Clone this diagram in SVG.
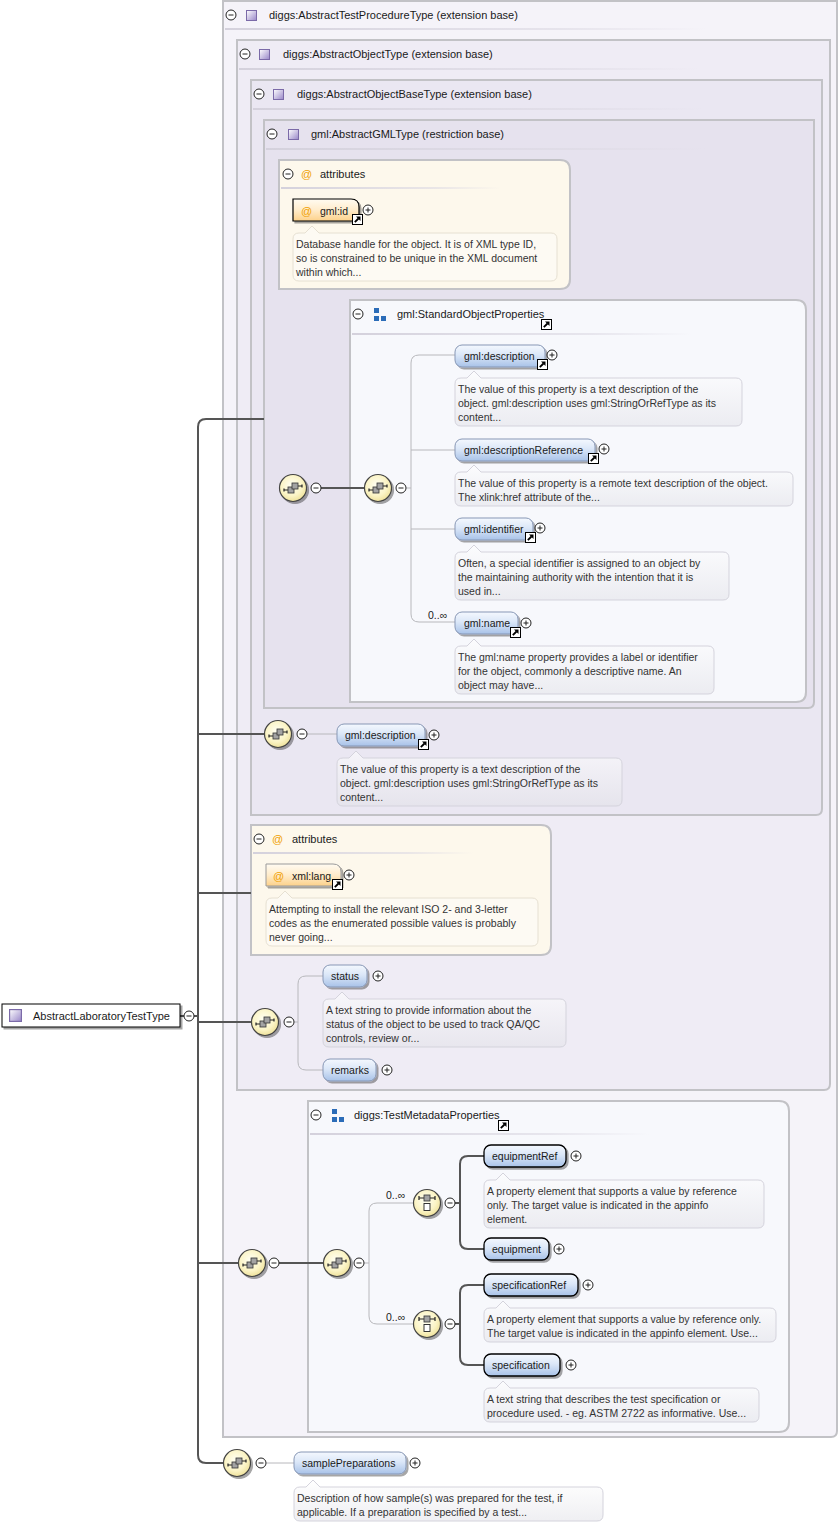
<svg xmlns="http://www.w3.org/2000/svg" width="840" height="1524" viewBox="0 0 840 1524">
<defs>
<style>
text{font-family:"Liberation Sans",Arial,sans-serif;fill:#1a1a1a}
.h{font-size:11px}
.e{font-size:10.5px}
.d{font-size:10.5px;fill:#333}
.box{stroke:#c2c2c6;stroke-width:2}
.cd{fill:none;stroke:#555;stroke-width:2}
.cl{fill:none;stroke:#b8b8bc;stroke-width:1}
.el{fill:url(#eg);filter:url(#sh)}
.opt{stroke:#8797b5;stroke-width:1}
.req{stroke:#000;stroke-width:1.3}
.desc{fill:url(#dg);stroke:#d4d3dc;stroke-width:1}
.adesc{fill:#fdfaf3;stroke:#e6e0d2;stroke-width:1}
.at{font-size:11px;fill:#f0a000}
.atb{fill:url(#ag);filter:url(#sh)}
.sep{fill:url(#sg)}
</style>
<linearGradient id="eg" x1="0" y1="0" x2="0" y2="1">
<stop offset="0" stop-color="#f4f8fe"/><stop offset="0.45" stop-color="#dbe7f8"/><stop offset="1" stop-color="#a8c2e8"/>
</linearGradient>
<linearGradient id="ag" x1="0" y1="0" x2="0" y2="1">
<stop offset="0" stop-color="#fffbf2"/><stop offset="0.5" stop-color="#ffeccb"/><stop offset="1" stop-color="#fdd189"/>
</linearGradient>
<linearGradient id="dg" x1="0" y1="0" x2="0" y2="1">
<stop offset="0" stop-color="#ffffff" stop-opacity="0.55"/><stop offset="1" stop-color="#e2e2e8" stop-opacity="0.55"/>
</linearGradient>
<linearGradient id="sg" x1="0" y1="0" x2="1" y2="0">
<stop offset="0" stop-color="#d4d1dc"/><stop offset="0.7" stop-color="#dcd9e3" stop-opacity="0.6"/><stop offset="1" stop-color="#dcd9e3" stop-opacity="0"/>
</linearGradient>
<linearGradient id="tg" x1="0" y1="0" x2="1" y2="1">
<stop offset="0" stop-color="#ffffff"/><stop offset="1" stop-color="#9886c8"/>
</linearGradient>
<radialGradient id="yg" cx="0.45" cy="0.4" r="0.6">
<stop offset="0" stop-color="#fffff4"/><stop offset="0.65" stop-color="#fbf4c6"/><stop offset="1" stop-color="#efe29c"/>
</radialGradient>
<filter id="sh" x="-20%" y="-20%" width="140%" height="160%">
<feDropShadow dx="2" dy="2" stdDeviation="0.7" flood-color="#000" flood-opacity="0.35"/>
</filter>
<symbol id="plus" viewBox="0 0 12 12"><circle cx="6" cy="6" r="5" fill="#fff" stroke="#222" stroke-width="1"/><path d="M3.5,6H8.5M6,3.5V8.5" stroke="#222" stroke-width="1"/></symbol>
<symbol id="minus" viewBox="0 0 12 12"><circle cx="6" cy="6" r="5" fill="#fff" stroke="#222" stroke-width="1"/><path d="M3.5,6H8.5" stroke="#222" stroke-width="1"/></symbol>
<symbol id="lnk" viewBox="0 0 11 11"><rect x="0.5" y="0.5" width="10" height="10" fill="#fff" stroke="#000"/><path d="M2.8,8.2L6.5,4.5" stroke="#000" stroke-width="1.8"/><path d="M4,2.5H8.5V7Z" fill="#000"/></symbol>
<symbol id="ti" viewBox="0 0 11 11"><rect x="0.5" y="0.5" width="10" height="10" fill="url(#tg)" stroke="#7b6aa8"/></symbol>
<symbol id="grp" viewBox="0 0 12 13"><rect x="0" y="0" width="5" height="5" fill="#2b6cb8"/><rect x="0" y="8" width="5" height="5" fill="#2b6cb8"/><rect x="7" y="8" width="5" height="5" fill="#2b6cb8"/></symbol>
<symbol id="seq" viewBox="0 0 32 32"><circle cx="16" cy="16" r="13.5" fill="url(#yg)" stroke="#444" stroke-width="1.2"/><path d="M7,18H11M21,14H25M7,16.5V19.5M25,12.5V15.5" stroke="#222" stroke-width="1.2" fill="none"/><rect x="11" y="15" width="6" height="6" fill="#a3a3a3" stroke="#333" stroke-width="0.8"/><rect x="15" y="11" width="6" height="6" fill="#a3a3a3" stroke="#333" stroke-width="0.8"/></symbol>
<symbol id="cho" viewBox="0 0 32 32"><circle cx="16" cy="16" r="13.5" fill="url(#yg)" stroke="#444" stroke-width="1.2"/><path d="M8,11H24M8,9V13M24,9V13" stroke="#222" stroke-width="1.2" fill="none"/><rect x="13" y="8" width="6" height="6" fill="#a3a3a3" stroke="#333" stroke-width="0.8"/><rect x="13" y="16.5" width="6" height="7" fill="#fff" stroke="#222" stroke-width="0.9"/></symbol>
</defs>

<g id="containers">
<g id="AbstractTestProcedureType">
<path class="box" fill="#f5f3f9" d="M223,1H837V1431Q837,1437 831,1437H223Z"/>
<use href="#minus" x="225" y="9" width="12" height="12"/>
<use href="#ti" x="246" y="10" width="11" height="11"/>
<text class="h" x="269" y="19">diggs:AbstractTestProcedureType (extension base)</text>
<rect class="sep" x="225" y="28" width="480" height="2"/>
</g>
<g id="AbstractObjectType">
<path class="box" fill="#efecf5" d="M237,40H830V1084Q830,1090 824,1090H237Z"/>
<use href="#minus" x="239" y="48" width="12" height="12"/>
<use href="#ti" x="259" y="49" width="11" height="11"/>
<text class="h" x="283" y="58">diggs:AbstractObjectType (extension base)</text>
<rect class="sep" x="239" y="68" width="460" height="2"/>
</g>
<g id="AbstractObjectBaseType">
<path class="box" fill="#eae7f2" d="M251,80H822V809Q822,815 816,815H251Z"/>
<use href="#minus" x="253" y="88" width="12" height="12"/>
<use href="#ti" x="273" y="89" width="11" height="11"/>
<text class="h" x="297" y="98">diggs:AbstractObjectBaseType (extension base)</text>
<rect class="sep" x="253" y="108" width="450" height="2"/>
</g>
<g id="AbstractGMLType">
<path class="box" fill="#e6e2ee" d="M264,120H814V702Q814,708 808,708H264Z"/>
<use href="#minus" x="266" y="128" width="12" height="12"/>
<use href="#ti" x="288" y="129" width="11" height="11"/>
<text class="h" x="311" y="138">gml:AbstractGMLType (restriction base)</text>
<rect class="sep" x="266" y="148" width="440" height="2"/>
</g>
<g id="attributes1">
<path class="box" fill="#fdf8ec" d="M279,160H560Q570,160 570,170V279Q570,289 560,289H279Z"/>
<use href="#minus" x="282" y="168" width="12" height="12"/>
<text class="at" x="301" y="178">@</text>
<text class="h" x="320" y="178">attributes</text>
<rect class="sep" x="281" y="187" width="220" height="2"/>
</g>
<g id="StandardObjectProperties">
<path class="box" fill="#f7f8fc" d="M350,300H796Q806,300 806,310V692Q806,702 796,702H350Z"/>
<use href="#minus" x="352" y="308" width="12" height="12"/>
<use href="#grp" x="374" y="308" width="12" height="13"/>
<text class="h" x="397" y="318">gml:StandardObjectProperties</text>
<use href="#lnk" x="541" y="319" width="11" height="11"/>
<rect class="sep" x="352" y="333" width="340" height="2"/>
</g>
<g id="attributes2">
<path class="box" fill="#fdf8ec" d="M251,825H541Q551,825 551,835V945Q551,955 541,955H251Z"/>
<use href="#minus" x="253" y="833" width="12" height="12"/>
<text class="at" x="272" y="843">@</text>
<text class="h" x="292" y="843">attributes</text>
<rect class="sep" x="253" y="852" width="220" height="2"/>
</g>
<g id="TestMetadataProperties">
<path class="box" fill="#f7f8fc" d="M308,1101H779Q789,1101 789,1111V1422Q789,1432 779,1432H308Z"/>
<use href="#minus" x="310" y="1109" width="12" height="12"/>
<use href="#grp" x="332" y="1109" width="12" height="13"/>
<text class="h" x="354" y="1119">diggs:TestMetadataProperties</text>
<use href="#lnk" x="498" y="1120" width="11" height="11"/>
<rect class="sep" x="310" y="1133" width="340" height="2"/>
</g>
</g>

<g id="connectors">
<path class="cd" d="M264,419H206Q198,419 198,427V1455Q198,1463 206,1463H224"/>
<path class="cd" d="M180,1016H184M194,1016H198"/>
<path class="cd" d="M198,734H265M198,893H251M198,1022H252M198,1263H239"/>
<path class="cd" d="M321,488H365" stroke="#666"/>
<path class="cd" d="M279,1263H324"/>
<path class="cl" d="M406,488H411M455,355H419Q411,355 411,363V614Q411,622 419,622H455M411,450H455M411,529H455"/>
<path class="cl" d="M307,734H337"/>
<path class="cl" d="M294,1022H298M323,976H306Q298,976 298,984V1062Q298,1070 306,1070H323"/>
<path class="cl" d="M364,1263H369M414,1203H377Q369,1203 369,1211V1316Q369,1324 377,1324H414"/>
<path class="cl" d="M266,1463H294"/>
<path class="cd" d="M455,1203H460M484,1156H468Q460,1156 460,1164V1241Q460,1249 468,1249H484"/>
<path class="cd" d="M455,1324H460M484,1285H468Q460,1285 460,1293V1357Q460,1365 468,1365H484"/>
<text class="e" x="428" y="619">0..∞</text>
<text class="e" x="386" y="1199">0..∞</text>
<text class="e" x="386" y="1321">0..∞</text>
</g>

<g id="AbstractLaboratoryTestType">
<rect x="2" y="1004" width="178" height="23" fill="#fff" stroke="#000" stroke-width="1" filter="url(#sh)"/>
<use href="#ti" x="9" y="1009" width="13" height="13"/>
<text x="33" y="1020" style="font-size:11px">AbstractLaboratoryTestType</text>
<use href="#minus" x="183" y="1010" width="12" height="12"/>
</g>

<g id="seq1"><use href="#seq" x="277" y="472" width="32" height="32" filter="url(#sh)"/><use href="#minus" x="310" y="482" width="12" height="12"/></g>
<g id="seq2"><use href="#seq" x="362" y="472" width="32" height="32" filter="url(#sh)"/><use href="#minus" x="395" y="482" width="12" height="12"/></g>
<g id="seq3"><use href="#seq" x="262" y="718" width="32" height="32" filter="url(#sh)"/><use href="#minus" x="296" y="728" width="12" height="12"/></g>
<g id="seq4"><use href="#seq" x="249" y="1006" width="32" height="32" filter="url(#sh)"/><use href="#minus" x="283" y="1016" width="12" height="12"/></g>
<g id="seq5"><use href="#seq" x="236" y="1247" width="32" height="32" filter="url(#sh)"/><use href="#minus" x="268" y="1257" width="12" height="12"/></g>
<g id="seq6"><use href="#seq" x="321" y="1247" width="32" height="32" filter="url(#sh)"/><use href="#minus" x="353" y="1257" width="12" height="12"/></g>
<g id="choice1"><use href="#cho" x="411" y="1187" width="32" height="32" filter="url(#sh)"/><use href="#minus" x="444" y="1197" width="12" height="12"/></g>
<g id="choice2"><use href="#cho" x="411" y="1308" width="32" height="32" filter="url(#sh)"/><use href="#minus" x="444" y="1318" width="12" height="12"/></g>
<g id="seq7"><use href="#seq" x="221" y="1447" width="32" height="32" filter="url(#sh)"/><use href="#minus" x="255" y="1457" width="12" height="12"/></g>

<g id="gml-id">
<path class="atb" d="M293,199H351Q359,199 359,207V221H293Z" stroke="#000" stroke-width="1.2"/>
<text class="at" x="301" y="215">@</text>
<text class="e" x="320" y="215">gml:id</text>
<use href="#lnk" x="352" y="214" width="11" height="11"/>
<use href="#plus" x="362" y="204" width="12" height="12"/>
<path class="adesc" d="M299,233H305L312,226L319,233H551Q557,233 557,239V275Q557,281 551,281H299Q293,281 293,275V239Q293,233 299,233Z"/>
<text class="d" x="296" y="247.5">Database handle for the object. It is of XML type ID,</text>
<text class="d" x="296" y="261.5">so is constrained to be unique in the XML document</text>
<text class="d" x="296" y="275.5">within which...</text>
</g>

<g id="gml-description-1">
<rect class="el opt" x="455" y="345" width="90" height="22" rx="7"/>
<text class="e" x="464" y="360">gml:description</text>
<use href="#lnk" x="537" y="359" width="11" height="11"/>
<use href="#plus" x="546" y="349" width="12" height="12"/>
<path class="desc" d="M461,378H467L474,371L481,378H736Q742,378 742,384V420Q742,426 736,426H461Q455,426 455,420V384Q455,378 461,378Z"/>
<text class="d" x="458" y="392.5">The value of this property is a text description of the</text>
<text class="d" x="458" y="406.5">object. gml:description uses gml:StringOrRefType as its</text>
<text class="d" x="458" y="420.5">content...</text>
</g>

<g id="gml-descriptionReference">
<rect class="el opt" x="455" y="439" width="140" height="22" rx="7"/>
<text class="e" x="464" y="454">gml:descriptionReference</text>
<use href="#lnk" x="588" y="453" width="11" height="11"/>
<use href="#plus" x="598" y="443" width="12" height="12"/>
<path class="desc" d="M461,472H467L474,465L481,472H787Q793,472 793,478V500Q793,506 787,506H461Q455,506 455,500V478Q455,472 461,472Z"/>
<text class="d" x="458" y="486.5">The value of this property is a remote text description of the object.</text>
<text class="d" x="458" y="500.5">The xlink:href attribute of the...</text>
</g>

<g id="gml-identifier">
<rect class="el opt" x="455" y="518" width="78" height="22" rx="7"/>
<text class="e" x="464" y="533">gml:identifier</text>
<use href="#lnk" x="525" y="532" width="11" height="11"/>
<use href="#plus" x="534" y="522" width="12" height="12"/>
<path class="desc" d="M461,552H467L474,545L481,552H723Q729,552 729,558V594Q729,600 723,600H461Q455,600 455,594V558Q455,552 461,552Z"/>
<text class="d" x="458" y="566.5">Often, a special identifier is assigned to an object by</text>
<text class="d" x="458" y="580.5">the maintaining authority with the intention that it is</text>
<text class="d" x="458" y="594.5">used in...</text>
</g>

<g id="gml-name">
<rect class="el opt" x="455" y="612" width="63" height="22" rx="7"/>
<text class="e" x="464" y="627">gml:name</text>
<use href="#lnk" x="510" y="627" width="11" height="11"/>
<use href="#plus" x="520" y="617" width="12" height="12"/>
<path class="desc" d="M461,646H467L474,639L481,646H708Q714,646 714,652V688Q714,694 708,694H461Q455,694 455,688V652Q455,646 461,646Z"/>
<text class="d" x="458" y="660.5">The gml:name property provides a label or identifier</text>
<text class="d" x="458" y="674.5">for the object, commonly a descriptive name. An</text>
<text class="d" x="458" y="688.5">object may have...</text>
</g>

<g id="gml-description-2">
<rect class="el opt" x="337" y="724" width="88" height="22" rx="7"/>
<text class="e" x="345" y="739">gml:description</text>
<use href="#lnk" x="418" y="739" width="11" height="11"/>
<use href="#plus" x="428" y="729" width="12" height="12"/>
<path class="desc" d="M343,758H349L356,751L363,758H616Q622,758 622,764V800Q622,806 616,806H343Q337,806 337,800V764Q337,758 343,758Z"/>
<text class="d" x="340" y="772.5">The value of this property is a text description of the</text>
<text class="d" x="340" y="786.5">object. gml:description uses gml:StringOrRefType as its</text>
<text class="d" x="340" y="800.5">content...</text>
</g>

<g id="xml-lang">
<path class="atb" d="M266,864H333Q341,864 341,872V886H266Z" stroke="#9a9a9a" stroke-width="1"/>
<text class="at" x="273" y="880">@</text>
<text class="e" x="292" y="880">xml:lang</text>
<use href="#lnk" x="332" y="879" width="11" height="11"/>
<use href="#plus" x="343" y="869" width="12" height="12"/>
<path class="adesc" d="M272,898H278L285,891L292,898H532Q538,898 538,904V940Q538,946 532,946H272Q266,946 266,940V904Q266,898 272,898Z"/>
<text class="d" x="269" y="912.5">Attempting to install the relevant ISO 2- and 3-letter</text>
<text class="d" x="269" y="926.5">codes as the enumerated possible values is probably</text>
<text class="d" x="269" y="940.5">never going...</text>
</g>

<g id="status">
<rect class="el opt" x="323" y="965" width="44" height="22" rx="7"/>
<text class="e" x="331" y="980">status</text>
<use href="#plus" x="372" y="970" width="12" height="12"/>
<path class="desc" d="M329,999H335L342,992L349,999H560Q566,999 566,1005V1041Q566,1047 560,1047H329Q323,1047 323,1041V1005Q323,999 329,999Z"/>
<text class="d" x="326" y="1013.5">A text string to provide information about the</text>
<text class="d" x="326" y="1027.5">status of the object to be used to track QA/QC</text>
<text class="d" x="326" y="1041.5">controls, review or...</text>
</g>

<g id="remarks">
<rect class="el opt" x="323" y="1059" width="53" height="22" rx="7"/>
<text class="e" x="331" y="1074">remarks</text>
<use href="#plus" x="381" y="1064" width="12" height="12"/>
</g>

<g id="equipmentRef">
<rect class="el req" x="484" y="1145" width="82" height="22" rx="7"/>
<text class="e" x="492" y="1160">equipmentRef</text>
<use href="#plus" x="570" y="1150" width="12" height="12"/>
<path class="desc" d="M490,1180H496L503,1173L510,1180H758Q764,1180 764,1186V1222Q764,1228 758,1228H490Q484,1228 484,1222V1186Q484,1180 490,1180Z"/>
<text class="d" x="487" y="1194.5">A property element that supports a value by reference</text>
<text class="d" x="487" y="1208.5">only. The target value is indicated in the appinfo</text>
<text class="d" x="487" y="1222.5">element.</text>
</g>

<g id="equipment">
<rect class="el req" x="484" y="1238" width="65" height="22" rx="7"/>
<text class="e" x="492" y="1253">equipment</text>
<use href="#plus" x="553" y="1243" width="12" height="12"/>
</g>

<g id="specificationRef">
<rect class="el req" x="484" y="1274" width="94" height="22" rx="7"/>
<text class="e" x="492" y="1289">specificationRef</text>
<use href="#plus" x="582" y="1279" width="12" height="12"/>
<path class="desc" d="M490,1308H496L503,1301L510,1308H770Q776,1308 776,1314V1336Q776,1342 770,1342H490Q484,1342 484,1336V1314Q484,1308 490,1308Z"/>
<text class="d" x="487" y="1322.5">A property element that supports a value by reference only.</text>
<text class="d" x="487" y="1336.5">The target value is indicated in the appinfo element. Use...</text>
</g>

<g id="specification">
<rect class="el req" x="484" y="1354" width="76" height="22" rx="7"/>
<text class="e" x="492" y="1369">specification</text>
<use href="#plus" x="565" y="1359" width="12" height="12"/>
<path class="desc" d="M490,1388H496L503,1381L510,1388H753Q759,1388 759,1394V1416Q759,1422 753,1422H490Q484,1422 484,1416V1394Q484,1388 490,1388Z"/>
<text class="d" x="487" y="1402.5">A text string that describes the test specification or</text>
<text class="d" x="487" y="1416.5">procedure used. - eg. ASTM 2722 as informative. Use...</text>
</g>

<g id="samplePreparations">
<rect class="el opt" x="294" y="1452" width="112" height="22" rx="7"/>
<text class="e" x="302" y="1467">samplePreparations</text>
<use href="#plus" x="409" y="1457" width="12" height="12"/>
<path class="desc" d="M300,1487H306L313,1480L320,1487H597Q603,1487 603,1493V1515Q603,1521 597,1521H300Q294,1521 294,1515V1493Q294,1487 300,1487Z"/>
<text class="d" x="297" y="1501.5">Description of how sample(s) was prepared for the test, if</text>
<text class="d" x="297" y="1515.5">applicable. If a preparation is specified by a test...</text>
</g>
</svg>
